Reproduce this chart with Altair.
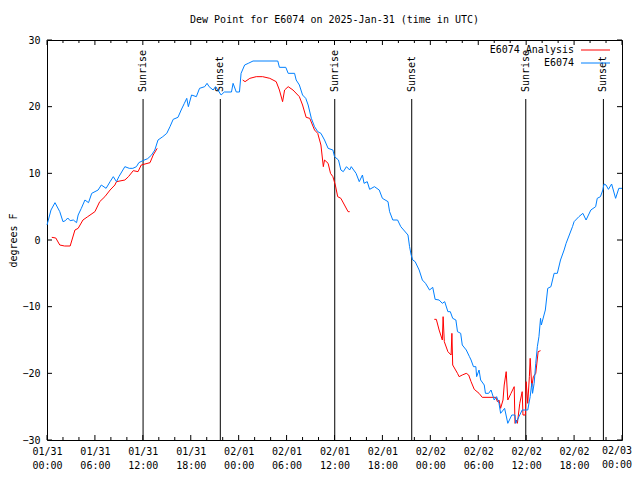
import altair as alt
import pandas as pd

FONT = "DejaVu Sans Mono"

# E6074 observations (hours since 2025-01-31 00:00 UTC, dew point F)
blue_h = [0.0, 0.5, 1.0, 1.6, 2.0, 2.3, 2.6, 2.9, 3.3, 3.7, 3.9, 4.3, 4.75, 5.2, 5.6, 6.4, 6.8, 7.4, 7.9, 8.3,
          8.7, 9.0, 9.5, 9.75, 10.3, 10.75, 11.2, 11.5, 12.0, 12.6, 13.1, 13.5, 13.9, 14.5, 15.0, 15.4, 15.8, 16.4,
          16.8, 17.2, 17.5, 17.7, 18.1, 18.7, 19.1, 19.75, 20.04, 20.3, 20.8, 21.1, 21.4, 21.8, 22.2, 23.1, 23.3,
          23.7, 24.1, 24.3, 24.75, 25.2, 25.8, 28.9, 29.1, 29.9, 30.2, 31.0, 31.2, 31.6, 32.0, 32.4, 32.7, 33.1,
          33.5, 33.9, 34.3, 34.75, 35.2, 35.8, 36.0, 36.5, 36.8, 37.1, 37.5, 37.9, 38.1, 38.7, 39.1, 39.5, 39.7,
          40.1, 40.4, 41.0, 41.6, 42.0, 42.7, 42.9, 43.3, 43.9, 44.3, 45.2, 45.4, 45.6, 45.8, 46.1, 46.6, 47.0,
          47.4, 47.9, 48.3, 48.6, 49.1, 49.5, 49.8, 50.2, 50.5, 50.8, 51.2, 51.4, 51.8, 52.0, 52.5, 52.9, 53.1,
          53.4, 53.7, 53.8, 54.1, 54.3, 54.75, 54.9, 55.3, 55.6, 56.0, 56.3, 56.6, 56.8, 57.3, 57.7, 58.2, 58.6,
          58.7, 59.1, 59.5, 60.2, 60.5, 60.7, 60.8, 61.0, 61.2, 61.4, 61.6, 61.8, 61.9, 62.4, 62.7, 63.1, 63.5,
          63.9, 64.3, 64.75, 65.0, 65.4, 65.8, 66.0, 66.6, 67.1, 67.5, 68.1, 68.7, 68.9, 69.3, 69.6, 69.75, 70.0,
          70.3, 70.7, 71.2, 71.6, 72.0]
blue_v = [2.25, 4.5, 5.6, 4.25, 2.75, 2.9, 3.3, 2.9, 3.0, 2.6, 3.75, 4.75, 6.0, 5.6, 7.0, 7.5, 8.25, 7.75, 8.75, 9.5,
          8.75, 9.5, 10.5, 11.0, 10.75, 10.75, 11.0, 11.6, 11.9, 12.2, 12.75, 13.5, 15.0, 15.5, 16.0, 17.0, 18.1, 18.4,
          19.5, 20.5, 21.25, 20.0, 21.75, 21.5, 22.75, 23.0, 23.5, 23.0, 22.5, 23.0, 22.5, 21.75, 22.2, 22.2, 23.5,
          22.2, 22.2, 25.0, 26.25, 26.5, 26.85, 26.85, 25.9, 25.9, 25.0, 25.0, 24.0, 23.25, 21.75, 21.25, 20.25, 18.25,
          17.0, 16.25, 16.0, 15.0, 13.75, 13.5, 12.5, 12.0, 10.5, 10.25, 11.0, 10.5, 11.0, 10.0, 8.75, 9.75, 8.5,
          8.75, 7.6, 8.0, 7.5, 6.25, 5.75, 4.25, 3.0, 3.0, 2.0, 0.75, -1.0, -2.25, -3.0, -3.25, -4.5, -6.0,
          -6.5, -7.5, -7.1, -8.9, -9.0, -9.5, -9.25, -10.75, -10.75, -11.75, -12.0, -13.75, -14.0, -15.75, -16.5, -17.5, -18.0,
          -19.0, -19.0, -20.5, -19.5, -21.0, -21.75, -23.0, -23.0, -22.5, -24.0, -23.5, -24.5, -26.0, -25.25, -27.5, -26.25, -26.25,
          -27.5, -26.5, -25.5, -25.5, -23.5, -21.5, -23.0, -21.5, -18.5, -16.0, -14.5, -11.75, -12.75, -10.5, -7.25, -7.0, -5.0,
          -5.0, -3.0, -1.5, -0.5, 0.75, 2.0, 2.75, 3.5, 4.0, 3.0, 4.5, 5.0, 6.25, 6.5, 7.5, 8.4, 8.25,
          7.6, 8.4, 6.25, 7.75, 7.75]

# E6074 Analysis, three separate segments
red1_h = [0.6, 1.1, 1.6, 2.2, 2.9, 3.5, 3.9, 4.5, 5.1, 6.0, 6.6, 7.25, 7.9, 8.5, 8.7, 9.75, 10.2, 10.8, 11.4, 11.8, 12.9, 13.3, 13.8]
red1_v = [0.4, 0.3, -0.75, -0.9, -0.9, 1.5, 1.75, 3.0, 3.5, 4.25, 5.75, 6.5, 7.5, 8.25, 8.75, 9.0, 9.5, 10.4, 10.25, 11.25, 11.6, 12.75, 13.75]
red2_h = [24.5, 24.8, 25.4, 26.2, 27.0, 27.9, 28.7, 29.1, 29.5, 29.75, 30.2, 30.8, 31.6, 32.0, 32.45, 32.9, 33.5, 33.9,
          34.3, 34.6, 34.75, 35.2, 35.5, 35.8, 36.1, 36.4, 36.8, 37.25, 37.7, 37.9]
red2_v = [24.0, 23.75, 24.25, 24.5, 24.5, 24.25, 23.75, 22.5, 20.75, 22.5, 23.0, 22.5, 21.5, 20.25, 18.4, 18.25, 16.5, 16.0,
          14.25, 11.0, 12.0, 11.5, 10.0, 9.5, 8.25, 6.5, 6.25, 5.25, 4.25, 4.25]
red3_h = [48.5, 48.75, 49.1, 49.5, 49.6, 49.75, 50.2, 50.6, 50.7, 50.8, 51.4, 51.6, 52.0, 52.5, 52.8, 53.1, 53.5, 54.1,
          54.5, 56.2, 56.4, 56.6, 56.8, 57.1, 57.25, 57.5, 57.7, 58.1, 58.5, 58.6, 58.8, 58.9, 59.2, 59.5, 59.6, 59.9,
          60.0, 60.2, 60.4, 60.5, 60.7, 60.9, 61.2, 61.5, 61.8]
red3_v = [-11.9, -11.9, -13.5, -15.0, -11.5, -15.25, -16.75, -17.25, -14.0, -18.75, -20.0, -20.5, -20.25, -20.0, -20.25, -21.25, -22.4, -23.0,
          -23.6, -23.6, -24.25, -24.0, -25.25, -24.0, -21.75, -19.75, -24.0, -23.0, -22.0, -27.5, -27.0, -27.5, -24.5, -22.75, -26.25, -26.25,
          -21.25, -24.5, -20.5, -17.75, -22.0, -20.5, -20.0, -16.75, -16.6]

sun_h = [12.03, 21.7, 36.03, 45.67, 59.95, 69.67]
sun_label = ["Sunrise", "Sunset", "Sunrise", "Sunset", "Sunrise", "Sunset"]

legend_names = ["E6074 Analysis", "E6074"]
legend_colors = ["#ff0000", "#0080ff"]

x_major = list(range(0, 73, 6))
x_minor = [t for t in range(0, 73, 2) if t % 6 != 0]
y_ticks = [-30, -20, -10, 0, 10, 20, 30]
last_label_h = [72]
last_label_text = ["02/03\n00:00"]

blue = pd.DataFrame({"h": blue_h, "v": blue_v})
red = pd.concat([
    pd.DataFrame({"h": red1_h, "v": red1_v, "seg": 1}),
    pd.DataFrame({"h": red2_h, "v": red2_v, "seg": 2}),
    pd.DataFrame({"h": red3_h, "v": red3_v, "seg": 3}),
])
sun = pd.DataFrame({"h": sun_h, "label": sun_label})
xmaj = pd.DataFrame({"h": x_major})
xmin = pd.DataFrame({"h": x_minor})
yt = pd.DataFrame({"v": y_ticks})
lastlab = pd.DataFrame({"h": last_label_h, "t": last_label_text})

label_expr = ("datum.value >= 72 ? '' : [datum.value < 24 ? '01/31' : datum.value < 48 ? '02/01' : '02/02', "
              "['00:00','06:00','12:00','18:00'][(datum.value % 24) / 6]]")

xs = alt.Scale(domain=[0, 72], nice=False, zero=False)
ys = alt.Scale(domain=[-30, 30], nice=False, zero=False)

X = alt.X("h:Q", scale=xs, title=None,
          axis=alt.Axis(values=x_major, labelExpr=label_expr, title=None,
                        labelPadding=6, labelLineHeight=14, labelBaseline="top",
                        labelFlush=False, labelOverlap=False))
Y = alt.Y("v:Q", scale=ys, title="degrees F",
          axis=alt.Axis(values=y_ticks, title="degrees F", labelPadding=7,
                        titleX=-34, titleY=200, titleAngle=270,
                        titleAlign="center", titleBaseline="middle"))

blue_line = alt.Chart(blue).mark_line(color="#0080ff", strokeWidth=1).encode(x=X, y=Y)
red_line = alt.Chart(red).mark_line(color="#ff0000", strokeWidth=1).encode(x=X, y=Y, detail="seg:N")

sun_rule = alt.Chart(sun).mark_rule(color="black", strokeWidth=1).encode(
    x=X, y=alt.value(59), y2=alt.value(400))
sun_text = alt.Chart(sun).mark_text(angle=270, align="left", baseline="middle", font=FONT, fontSize=10,
                                    color="black").encode(
    x=X, y=alt.value(52), text="label:N")

last_text = alt.Chart(lastlab).mark_text(align="right", baseline="top", dx=10, font=FONT, fontSize=10,
                                         lineHeight=14, lineBreak="\n", color="black").encode(
    x=X, y=alt.value(406), text="t:N")

def xtick(df, y0, y1):
    return alt.Chart(df).mark_rule(color="black").encode(x=X, y=alt.value(y0), y2=alt.value(y1))

tick_b1 = xtick(xmaj, 400, 395)
tick_b2 = xtick(xmin, 400, 397)
tick_t1 = xtick(xmaj, 0, 5)
tick_t2 = xtick(xmin, 0, 3)
tick_l = alt.Chart(yt).mark_rule(color="black").encode(y=Y, x=alt.value(0), x2=alt.value(5))
tick_r = alt.Chart(yt).mark_rule(color="black").encode(y=Y, x=alt.value(575), x2=alt.value(570))

leg_layers = []
for i, (name, col) in enumerate(zip(legend_names, legend_colors)):
    d = pd.DataFrame({"name": [name]})
    yy = 10 + 13 * i
    leg_layers.append(alt.Chart(d).mark_text(align="right", baseline="middle", font=FONT, fontSize=10,
                                             color="black").encode(
        x=alt.value(527), y=alt.value(yy), text="name:N"))
    leg_layers.append(alt.Chart(d).mark_rule(strokeWidth=1).encode(
        x=alt.value(534), x2=alt.value(563), y=alt.value(yy), color=alt.value(col)))

chart = alt.layer(
    sun_rule, sun_text, red_line, blue_line, tick_b1, tick_b2, tick_t1, tick_t2, tick_l, tick_r,
    last_text, *leg_layers
).properties(
    width=575, height=400,
    background="white",
    title=alt.TitleParams("Dew Point for E6074 on 2025-Jan-31 (time in UTC)", font=FONT, fontSize=10,
                          fontWeight="normal", color="black", offset=10, anchor="middle"),
    autosize=alt.AutoSizeParams(type="none"),
    padding={"left": 39, "top": 32, "right": 10, "bottom": 40},
).configure_view(stroke="black", strokeWidth=1).configure_axis(
    grid=False, domain=False, ticks=False, labelFont=FONT, labelFontSize=10, labelColor="black",
    titleFont=FONT, titleFontSize=10, titleColor="black", titleFontWeight="normal"
)

chart.save("out.html", embed_options={"renderer": "svg", "actions": False})
